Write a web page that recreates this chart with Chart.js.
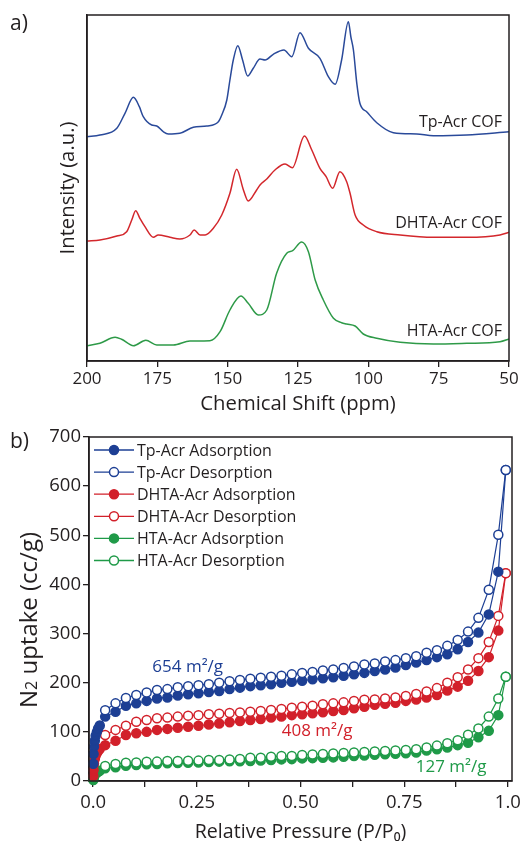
<!DOCTYPE html>
<html>
<head>
<meta charset="utf-8">
<title>Tp-Acr / DHTA-Acr / HTA-Acr COF</title>
<script src="https://cdn.jsdelivr.net/npm/chart.js@4.4.0/dist/chart.umd.min.js"></script>
<style>
    html, body { margin: 0; padding: 0; background: #fff; overflow: hidden; }
    body { width: 532px; height: 841px; position: relative; font-family: 'Open Sans', sans-serif; color: #231f20; }
    .panel { position: absolute; left: 0; width: 532px; }
    #wrap-a { top: 0; height: 420px; }
    #wrap-b { top: 420px; height: 440px; }
    .tag { position: absolute; left: 10px; font-size: 21px; line-height: 28px; }
</style>
</head>
<body>
<div class="panel" id="wrap-a"><canvas id="nmr-canvas"></canvas></div>
<div class="panel" id="wrap-b"><canvas id="bet-canvas"></canvas></div>
<div class="tag" style="top:8px">a)</div>
<div class="tag" style="top:426px">b)</div>

<script>
// ---- panel a: 13C CP-MAS spectra (ppm, arbitrary intensity) ----
const tpPpm = [200, 195.4, 189.4, 186.5, 183.5, 181.4, 180, 177, 175.2, 172.9, 171.1, 167, 162.2, 157.4, 153.3, 152.1, 150.3, 149.2, 148, 146.4, 144.7, 142.9, 140.9, 138.5, 136.7, 133.8, 130, 127.2, 124.3, 121.3, 117.2, 114.2, 111.8, 109.5, 107.1, 106.2, 105.3, 104.1, 103, 100.6, 97, 91.1, 82.8, 76.9, 65, 50];
const tpInt = [224.3, 226, 232.7, 247.7, 263.7, 254.3, 244.3, 236, 235, 229.3, 227, 227.7, 233.7, 235, 239.3, 246, 261, 281, 301, 315.3, 301, 285, 292.7, 302, 301, 306.7, 311, 304.3, 328.3, 312.7, 302.7, 284.3, 276.7, 301, 339.3, 324, 311, 277.7, 257.7, 249.3, 238.3, 228.3, 227, 225.3, 226, 229.3];

const dhtaPpm = [200, 195.4, 189.4, 185.9, 184.1, 182.7, 181.2, 179.4, 176.4, 174.7, 170.5, 167, 163.4, 161.9, 159.8, 158, 155.1, 152.1, 149.2, 146.8, 144.4, 142.7, 139.7, 138.5, 136.1, 133.2, 129.6, 127, 122.7, 120.1, 117.2, 115, 112.7, 110.1, 107.7, 106.5, 104.7, 101.8, 97, 88.7, 76.9, 65, 53.2, 50];
const dhtaInt = [120, 121, 125, 129.3, 141, 150.3, 142.7, 134.3, 123.7, 126, 123.7, 122, 126, 131, 126, 126, 132.7, 146, 167.7, 191.7, 171, 160, 171, 176, 182, 191, 197, 193.3, 225, 211, 192.7, 184.3, 172.7, 189.3, 179.3, 167.7, 146, 136, 129.3, 126, 123.7, 123.7, 126, 128.7];

const htaPpm = [200, 195.4, 190, 187.7, 183.5, 179.1, 175.2, 169.3, 163.4, 156.3, 152.7, 149.2, 145.3, 142.7, 139.1, 136.1, 132.6, 129, 126.9, 123.7, 121.3, 118.9, 116, 112.4, 109.5, 107.7, 104.7, 101.8, 97, 88.7, 76.9, 65, 53.2, 50];
const htaInt = [15.3, 17.7, 23.7, 21.7, 15.3, 20.7, 16, 16, 20, 20.3, 29.3, 51, 65, 57.7, 46, 51, 87.7, 107.7, 110.3, 119, 109.3, 81, 61, 42.7, 38.3, 37, 35, 27, 22.7, 18.7, 17, 17.7, 19.3, 22];

const nmrNames = ['Tp-Acr COF', 'DHTA-Acr COF', 'HTA-Acr COF'];
const shiftTicks = [200, 175, 150, 125, 100, 75, 50];

// ---- panel b: N2 isotherms (P/P0, cc/g) ----
const adsP = [0.0005, 0.001, 0.002, 0.004, 0.006, 0.009, 0.012, 0.016,
    0.029, 0.054, 0.079, 0.104, 0.129, 0.154, 0.179, 0.204, 0.229, 0.254, 0.279, 0.304, 0.329,
    0.354, 0.379, 0.404, 0.429, 0.454, 0.479, 0.504, 0.529, 0.554, 0.579, 0.604, 0.629, 0.654,
    0.679, 0.704, 0.729, 0.754, 0.779, 0.804, 0.829, 0.854, 0.879, 0.904, 0.929, 0.954, 0.977, 0.995];
const desP = [0.995, 0.977, 0.954, 0.929, 0.904, 0.879, 0.854, 0.829, 0.804, 0.779, 0.754, 0.729,
    0.704, 0.679, 0.654, 0.629, 0.604, 0.579, 0.554, 0.529, 0.504, 0.479, 0.454, 0.429, 0.404,
    0.379, 0.354, 0.329, 0.304, 0.279, 0.254, 0.229, 0.204, 0.179, 0.154, 0.129, 0.104, 0.079, 0.054, 0.029];

const tpAds = [35, 55, 70, 82, 92, 100, 107, 113,
    131, 141, 153, 158, 163, 168, 170, 174, 176.5, 178.5, 181, 183, 187, 190, 193, 195, 197, 200,
    202, 204, 207, 209, 211, 214, 217, 220, 224, 227, 231, 236, 241, 246, 252, 258, 268, 283, 302, 339, 426, 633];
const tpDes = [633, 501, 389, 332, 304, 287, 275, 266, 261, 254, 250, 246, 243, 239, 237, 233, 230, 227,
    225, 222, 220, 217, 214, 212, 210, 208, 205.5, 203, 200, 197, 195, 193, 191, 187, 185, 180, 175, 169, 158, 144];

const dhtaAds = [10, 22, 35, 45, 52, 57, 61, 65,
    73, 82, 93.6, 97, 100, 104, 106, 108.5, 110.5, 112.5, 115, 117, 119.5, 122, 124, 126, 129, 131,
    134, 136, 137.7, 140, 142.5, 144.5, 148, 151, 155, 157, 159, 163, 166, 170, 175, 184, 192, 204, 224, 252, 306, 423];
const dhtaDes = [423, 336, 283, 250, 227, 211, 200, 189, 182, 177, 173, 170, 168, 166, 165.5, 163, 160, 158,
    156, 153, 151, 149, 146.5, 144.5, 142.5, 141, 139.5, 138.5, 137, 135.7, 134, 133, 131, 129, 127.6, 124, 120.7, 112.5, 104, 93.6];

const htaAds = [2, 5, 9, 12, 15, 17, 19, 21,
    26, 28, 31, 32.6, 34, 34.6, 36, 36.5, 37, 37.6, 38.7, 39.4, 40, 40.3, 40.7, 41.5, 42.7, 44,
    44.5, 46, 46.5, 47.4, 48, 49.5, 50.8, 52, 53.5, 54.5, 55.5, 56.5, 58, 62, 64.5, 68, 73, 78, 89, 102, 134, 212];
const htaDes = [212, 168, 131, 107, 94, 83, 77, 72, 68, 64.5, 63, 62, 61, 60, 59, 58, 57, 56,
    55, 54, 53, 51, 50.8, 49.5, 47.5, 47.4, 45, 44, 42.8, 42.7, 41.5, 41.4, 40.8, 40.7, 39.5, 39.4, 37.6, 37, 34.6, 30.5];

const pressureTicks = [0, 0.125, 0.25, 0.375, 0.5, 0.625, 0.75, 0.875, 1.0];
const pressureTickLabels = ['0.0', '', '0.25', '', '0.50', '', '0.75', '', '1.0'];
const areaLabels = ['654 m²/g', '408 m²/g', '127 m²/g'];

const INK = '#231f20';
const BLUE = '#1d3f94';
const RED = '#d2202a';
const GREEN = '#1f9a48';

Chart.defaults.font.family = "'Open Sans', sans-serif";
Chart.defaults.color = INK;
Chart.defaults.animation = false;

const toPoints = (xs, ys) => xs.map((x, i) => ({ x: x, y: ys[i] }));

// closes the plot frame on top and right
const frameBox = {
    id: 'frameBox',
    afterDraw(chart) {
        const { ctx, chartArea: a } = chart;
        ctx.save();
        ctx.strokeStyle = INK;
        ctx.lineWidth = 1.5;
        ctx.strokeRect(a.left, a.top, a.right - a.left, a.bottom - a.top);
        ctx.restore();
    }
};

const nmrTags = {
    id: 'nmrTags',
    afterDatasetsDraw(chart) {
        const { ctx, scales: { x, y } } = chart;
        const levels = [239, 138, 30];
        ctx.save();
        ctx.font = "16px 'Open Sans'";
        ctx.fillStyle = INK;
        ctx.textAlign = 'right';
        ctx.textBaseline = 'middle';
        nmrNames.forEach((name, i) => {
            ctx.fillText(name, x.getPixelForValue(52.5), y.getPixelForValue(levels[i]));
        });
        ctx.restore();
    }
};

// legend with line + marker, drawn top-left inside the plot
const isoLegend = {
    id: 'isoLegend',
    afterDraw(chart) {
        const { ctx, chartArea: a } = chart;
        ctx.save();
        ctx.font = "16px 'Open Sans'";
        ctx.textBaseline = 'middle';
        ctx.textAlign = 'left';
        chart.data.datasets.forEach((ds, i) => {
            const yy = a.top + 13 + i * 22.1;
            const x0 = a.left + 5;
            ctx.strokeStyle = ds.borderColor;
            ctx.lineWidth = 1.3;
            ctx.beginPath();
            ctx.moveTo(x0, yy);
            ctx.lineTo(x0 + 40, yy);
            ctx.stroke();
            ctx.beginPath();
            ctx.arc(x0 + 20, yy, 4.5, 0, Math.PI * 2);
            ctx.fillStyle = ds.pointBackgroundColor;
            ctx.fill();
            ctx.lineWidth = 1.5;
            ctx.stroke();
            ctx.fillStyle = INK;
            ctx.fillText(ds.label, x0 + 43, yy + 1);
        });
        ctx.restore();
    }
};

const areaTags = {
    id: 'areaTags',
    afterDatasetsDraw(chart) {
        const { ctx, scales: { x, y } } = chart;
        const spots = [[0.228, 231, BLUE], [0.54, 102, RED], [0.863, 28.5, GREEN]];
        ctx.save();
        ctx.font = "17px 'Open Sans'";
        ctx.textAlign = 'center';
        ctx.textBaseline = 'middle';
        areaLabels.forEach((txt, i) => {
            ctx.fillStyle = spots[i][2];
            ctx.fillText(txt, x.getPixelForValue(spots[i][0]), y.getPixelForValue(spots[i][1]));
        });
        ctx.restore();
    }
};

// y title "N2 uptake (cc/g)" with a small baseline 2, as in the figure
const uptakeTitle = {
    id: 'uptakeTitle',
    afterDraw(chart) {
        const ctx = chart.ctx;
        const big = "24px 'Open Sans'";
        const small = "16px 'Open Sans'";
        const parts = [['N', big], ['2', small], [' uptake (cc/g)', big]];
        ctx.save();
        const widths = parts.map(([t, f]) => { ctx.font = f; return ctx.measureText(t).width; });
        const total = widths.reduce((s, w) => s + w, 0);
        ctx.translate(28, 200);
        ctx.rotate(-Math.PI / 2);
        ctx.fillStyle = INK;
        ctx.textAlign = 'left';
        ctx.textBaseline = 'alphabetic';
        let pos = -total / 2;
        parts.forEach(([t, f], i) => {
            ctx.font = f;
            ctx.fillText(t, pos, 8.6);
            pos += widths[i];
        });
        ctx.restore();
    }
};

function createNmrChart() {
    const ctx = document.getElementById('nmr-canvas').getContext('2d');
    const line = (xs, ys, color) => ({
        data: toPoints(xs, ys),
        borderColor: color,
        borderWidth: 1.5,
        pointRadius: 0,
        cubicInterpolationMode: 'monotone',
        fill: false
    });

    return new Chart(ctx, {
        type: 'line',
        data: {
            datasets: [
                line(tpPpm, tpInt, '#2a4a9a'),
                line(dhtaPpm, dhtaInt, '#d3272c'),
                line(htaPpm, htaInt, '#2e9a48')
            ]
        },
        options: {
            responsive: true,
            maintainAspectRatio: false,
            layout: { padding: { left: 0, top: 15, right: 23, bottom: 0 } },
            plugins: { legend: { display: false }, tooltip: { enabled: false } },
            scales: {
                x: {
                    type: 'linear',
                    reverse: true,
                    min: 50,
                    max: 200,
                    afterBuildTicks: (scale) => { scale.ticks = shiftTicks.map(v => ({ value: v })); },
                    afterFit: (scale) => { scale.height = 59; },
                    ticks: { font: { size: 17 }, padding: 1.5, maxRotation: 0 },
                    grid: { drawOnChartArea: false, color: INK, tickLength: 6, lineWidth: 1.3 },
                    border: { color: INK, width: 1.5 },
                    title: {
                        display: true,
                        text: 'Chemical Shift (ppm)',
                        font: { size: 20.3 },
                        padding: { top: 0, bottom: 3.5 }
                    }
                },
                y: {
                    min: 0,
                    max: 346,
                    afterFit: (scale) => { scale.width = 87; },
                    ticks: { display: false },
                    grid: { display: false, drawTicks: false },
                    border: { color: INK, width: 1.5 },
                    title: {
                        display: true,
                        text: 'Intensity (a.u.)',
                        font: { size: 20.3 },
                        padding: { top: 56.5, bottom: 0 }
                    }
                }
            }
        },
        plugins: [frameBox, nmrTags]
    });
}

function createIsothermChart() {
    const ctx = document.getElementById('bet-canvas').getContext('2d');
    const branch = (label, xs, ys, color, open, order) => ({
        label: label,
        data: toPoints(xs, ys),
        borderColor: color,
        borderWidth: 1.2,
        pointRadius: 4.5,
        pointBorderWidth: 1.5,
        pointBorderColor: color,
        pointBackgroundColor: open ? '#ffffff' : color,
        tension: 0,
        clip: false,
        order: order
    });

    return new Chart(ctx, {
        type: 'line',
        data: {
            datasets: [
                branch('Tp-Acr Adsorption', adsP, tpAds, BLUE, false, 2),
                branch('Tp-Acr Desorption', desP, tpDes, BLUE, true, 1),
                branch('DHTA-Acr Adsorption', adsP, dhtaAds, RED, false, 4),
                branch('DHTA-Acr Desorption', desP, dhtaDes, RED, true, 3),
                branch('HTA-Acr Adsorption', adsP, htaAds, GREEN, false, 6),
                branch('HTA-Acr Desorption', desP, htaDes, GREEN, true, 5)
            ]
        },
        options: {
            responsive: true,
            maintainAspectRatio: false,
            layout: { padding: { left: 0, top: 17, right: 20, bottom: 0 } },
            plugins: { legend: { display: false }, tooltip: { enabled: false } },
            scales: {
                x: {
                    type: 'linear',
                    min: -0.01,
                    max: 1.01,
                    afterBuildTicks: (scale) => { scale.ticks = pressureTicks.map(v => ({ value: v })); },
                    afterFit: (scale) => { scale.height = 79; },
                    ticks: {
                        font: { size: 18.5 },
                        padding: 5,
                        maxRotation: 0,
                        autoSkip: false,
                        callback: (value, index) => pressureTickLabels[index]
                    },
                    grid: { drawOnChartArea: false, color: INK, tickLength: 6, lineWidth: 1.3 },
                    border: { color: INK, width: 1.5 },
                    title: {
                        display: true,
                        text: 'Relative Pressure (P/P₀)',
                        font: { size: 19.6 },
                        padding: { top: 0, bottom: 16 }
                    }
                },
                y: {
                    min: 0,
                    max: 700,
                    ticks: { stepSize: 100, font: { size: 18.5 }, padding: 2 },
                    afterFit: (scale) => { scale.width = 89; },
                    grid: { drawOnChartArea: false, color: INK, tickLength: 6, lineWidth: 1.3 },
                    border: { color: INK, width: 1.5 },
                    title: { display: false }
                }
            }
        },
        plugins: [frameBox, isoLegend, areaTags, uptakeTitle]
    });
}

document.addEventListener('DOMContentLoaded', () => {
    createNmrChart();
    createIsothermChart();
});
</script>
</body>
</html>
